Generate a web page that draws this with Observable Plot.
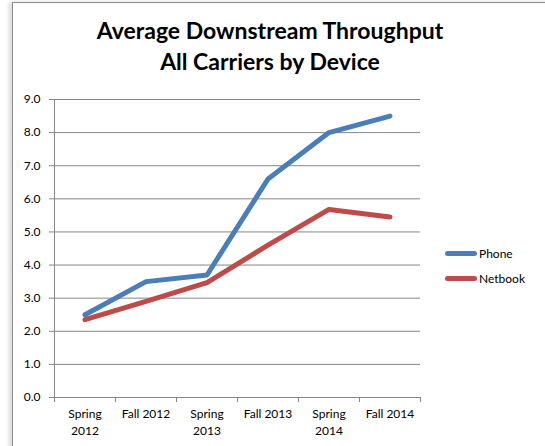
<!DOCTYPE html>
<html>
<head>
<meta charset="utf-8">
<script src="https://cdn.jsdelivr.net/npm/d3@7"></script>
<script src="https://cdn.jsdelivr.net/npm/@observablehq/plot@0.6"></script>
<style>
  body { margin: 0; background: #fff; width: 545px; height: 446px; overflow: hidden; position: relative; font-family: Lato, "Open Sans", sans-serif; }
  #frame { position: absolute; left: 12px; top: 2px; width: 700px; height: 600px; border-left: 1px solid #8c8c8c; border-top: 1px solid #8c8c8c; box-shadow: -3px 0 4px rgba(0,0,0,0.15); }
  #title { position: absolute; left: 0; width: 540px; top: 15px; text-align: center; font-weight: bold; font-size: 23px; line-height: 31px; color: #000; }
  #chart { position: absolute; left: 0; top: 90px; }
  .leg { position: absolute; left: 445px; font-size: 12px; color: #000; display: flex; align-items: center; }
  .sw { display: inline-block; width: 32px; height: 5px; border-radius: 3px; margin-right: 2px; }
</style>
</head>
<body>
<div id="frame"></div>
<div id="title">Average Downstream Throughput<br>All Carriers by Device</div>
<div id="chart"></div>
<div id="legend"></div>
<script>
const categories = ["Spring\n2012", "Fall 2012", "Spring\n2013", "Fall 2013", "Spring\n2014", "Fall 2014"];
const phone = [2.5, 3.5, 3.7, 6.6, 8.0, 8.5];
const netbook = [2.35, 2.9, 3.47, 4.6, 5.68, 5.45];
const yTicks = [0, 1, 2, 3, 4, 5, 6, 7, 8, 9];
const seriesNames = ["Phone", "Netbook"];
const seriesColors = ["#4a7ebb", "#be4b48"];

const rows = [];
phone.forEach((v, i) => rows.push({pos: i + 0.5, value: v, series: "Phone"}));
netbook.forEach((v, i) => rows.push({pos: i + 0.5, value: v, series: "Netbook"}));
const labels = categories.map((c, i) => ({pos: i + 0.5, label: c}));

const chart = Plot.plot({
  width: 545,
  height: 356,
  marginLeft: 54,
  marginRight: 125,
  marginTop: 9,
  marginBottom: 49,
  style: {fontFamily: "Lato, 'Open Sans', sans-serif", fontSize: "12px", color: "#000", background: "transparent"},
  x: {domain: [0, categories.length], axis: null},
  y: {domain: [0, 9], axis: null},
  color: {domain: seriesNames, range: seriesColors},
  marks: [
    Plot.gridY(yTicks, {stroke: "#868686", strokeOpacity: 1, strokeWidth: 1}),
    Plot.axisY(yTicks, {tickSize: 5, tickPadding: 9, stroke: "#868686", tickFormat: d => d.toFixed(1), fill: "#000", label: null}),
    Plot.ruleX([0], {stroke: "#868686"}),
    Plot.ruleY([0], {stroke: "#868686"}),
    Plot.axisX(d3.range(categories.length + 1), {tickSize: 5, tickFormat: () => "", stroke: "#868686", label: null}),
    Plot.line(rows, {x: "pos", y: "value", z: "series", stroke: "series", strokeWidth: 5, strokeLinecap: "round", strokeLinejoin: "round"}),
    Plot.text(labels, {x: "pos", text: "label", frameAnchor: "bottom", lineAnchor: "top", dy: 8, lineHeight: 1.45, fill: "#000", fontSize: 12})
  ]
});
document.getElementById("chart").appendChild(chart);

const legend = document.getElementById("legend");
seriesNames.forEach((name, i) => {
  const d = document.createElement("div");
  d.className = "leg";
  d.style.top = (246 + i * 25) + "px";
  d.innerHTML = `<span class="sw" style="background:${seriesColors[i]}"></span>${name}`;
  legend.appendChild(d);
});
</script>
</body>
</html>
